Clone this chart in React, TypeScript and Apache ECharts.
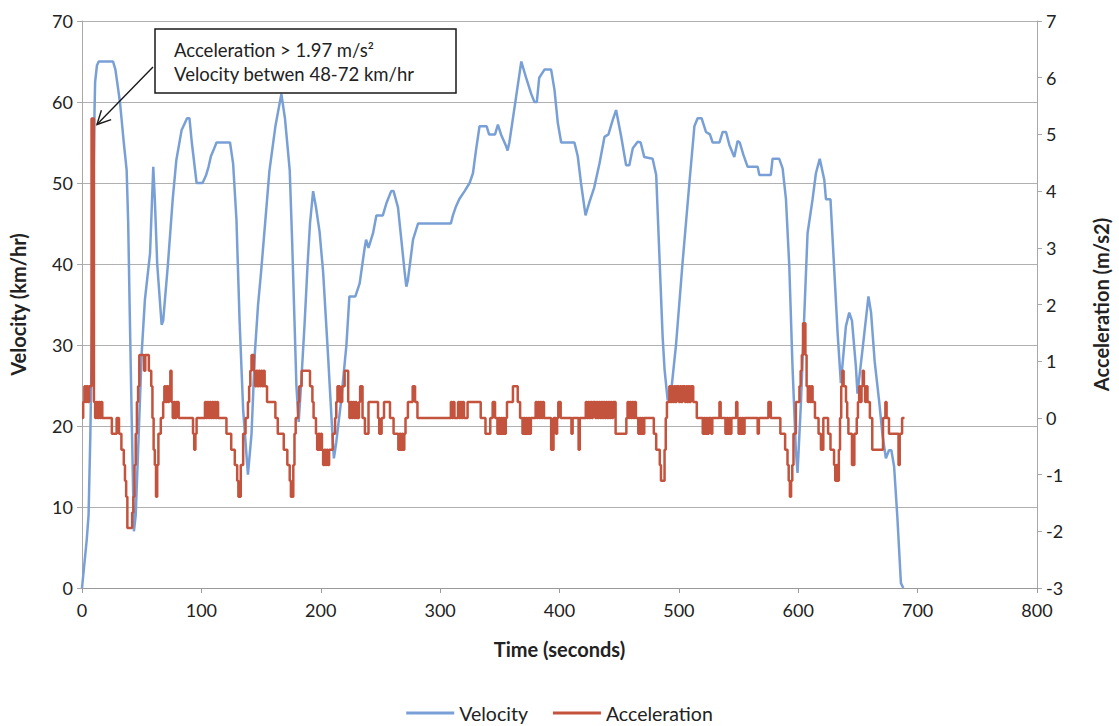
import React, { useEffect, useRef } from "react";
import * as echarts from "echarts";

// Vehicle speed trace, [time (s), velocity (km/hr)]
const velocity: [number, number][] = [
  [0, 0], [4, 6], [5.5, 9], [7, 19], [8.5, 33], [9.5, 48], [10.5, 59], [11, 62.5], [12.5, 64.5], [14, 65],
  [26, 65], [28, 64], [31.8, 60], [35, 55], [37.4, 51.6], [38.7, 45], [40, 34], [41.5, 22], [43.5, 7],
  [45, 9], [47, 17], [50, 29], [52.7, 35.6], [57, 41.3], [59.7, 52], [61, 48], [63, 40], [66.7, 32.5],
  [68, 33], [72, 40], [76, 48], [79, 52.8], [83.4, 56.5], [88, 58], [90, 58], [92, 55], [96, 50],
  [101, 50], [104, 51], [106, 52], [108, 53.3], [110, 54], [112.7, 55], [124, 55], [126.6, 52.4],
  [129.4, 45.4], [132, 33], [135, 22], [139, 14], [142, 19], [144.8, 29], [147.5, 35], [150, 39],
  [154.5, 47], [157, 51.5], [162, 57], [167, 61], [170, 58], [174, 51.6], [176, 43], [178, 33],
  [179.6, 25], [181.5, 20.5], [183.5, 25], [186.6, 33], [189, 40], [191, 45], [193.6, 49], [196, 47],
  [199, 44], [202, 39], [206, 29], [209, 21], [211, 16], [213, 18], [217, 23], [221.5, 30], [224, 36],
  [229, 36], [232.6, 37.6], [236.8, 42], [238, 43], [240, 42], [243.8, 43.8], [246.6, 46], [252, 46],
  [255, 47.5], [259, 49], [261, 49], [264.7, 47], [267.5, 43], [270.3, 39], [271.7, 37.2], [273, 38],
  [277.3, 43], [281.5, 45], [309, 45], [310.7, 46], [313, 47], [316, 48], [320.5, 49], [324.7, 50],
  [327.5, 51.2], [330, 54], [333, 57], [339, 57], [341, 56], [346, 56], [348.4, 57.2], [351, 56],
  [355.4, 54.5], [356.5, 54], [358, 55], [363.7, 60.7], [368, 65], [372, 63], [376.3, 61], [379, 60],
  [381, 60], [383, 63], [387.4, 64], [393, 64], [395.8, 61.5], [398.6, 57.4], [401.4, 55], [412.5, 55],
  [415.3, 53.3], [418, 50], [421.8, 46], [425, 47.6], [429, 49.4], [433.5, 52.4], [437.7, 55.7],
  [441, 56], [444.6, 57.8], [447.4, 59], [451.6, 55.8], [455.8, 52.2], [458.5, 52.2], [461.4, 54.3],
  [465.5, 55.1], [468, 55], [471, 53.2], [478, 53], [481, 51], [483.7, 41], [486.4, 31], [488, 27],
  [490.6, 23.2], [493, 23.5], [497.6, 30], [503, 40], [508.8, 50], [513, 57], [515.7, 58], [519, 58],
  [522.7, 56.3], [526, 56], [528.3, 55], [534, 55], [536.7, 56.3], [539.5, 56.3], [542.3, 54.7],
  [546.4, 53.2], [549.2, 55.2], [551, 55], [554, 53.5], [557.6, 52], [566, 52], [567.4, 51], [577, 51],
  [578.5, 53], [584, 53], [586.9, 51.8], [589.7, 48], [592.5, 39.7], [595.2, 27.3], [598, 17],
  [599.4, 14.2], [602.3, 23], [605, 33.5], [607.8, 43.8], [612, 48], [614.8, 51.2], [618, 53],
  [621.8, 50.4], [623.2, 48], [627, 48], [630, 39.7], [633, 31.4], [635.7, 25.3], [639.9, 32.3],
  [642.7, 34], [645, 33], [648.3, 27.3], [649.6, 24], [653.8, 29.4], [658.8, 36], [661, 34], [664, 28],
  [667.8, 23], [670.5, 19], [673.4, 16], [676, 17], [678, 17], [680.3, 15], [683, 8.8], [686, 0.6],
  [688, 0],
];

// Acceleration, [time (s), m/s2]; each value holds until the next time
const acceleration: [number, number][] = [
  [0, 0], [1, 0.28], [2, 0.56], [3, 0.28], [4, 0.56], [5, 0.28], [6, 0.56], [8, 5.28], [10, 0.28],
  [11, 0], [12, 0.28], [13, 0], [14, 0.28], [15, 0], [16, 0.28], [17, 0],
  [25, -0.28], [29, 0], [31, -0.28], [33, -0.56], [35, -0.83], [36, -1.11], [37, -1.39], [38, -1.94],
  [42, -1.67], [43, -1.39], [44, -0.83], [45, -0.28], [46, 0.28], [47, 0.56], [48, 1.11], [52, 0.83],
  [53, 1.11], [56, 0.83], [58, 0.56], [59, 0], [60, -0.56], [61, -0.83], [62, -1.39], [63, -0.83],
  [64, -0.28], [66, 0], [68, 0.28], [69, 0.56], [70, 0.28], [71, 0.56], [72, 0.28], [73, 0.56],
  [74, 0.83], [75, 0.28], [76, 0], [77, 0.28], [78, 0], [79, 0.28], [81, 0],
  [93, -0.28], [94, -0.56], [95, -0.28], [96, 0],
  [103, 0.28], [104, 0], [105, 0.28], [106, 0], [107, 0.28], [108, 0], [109, 0.28], [110, 0],
  [111, 0.28], [112, 0], [113, 0.28], [114, 0],
  [121, -0.28], [125, -0.56], [128, -0.83], [130, -1.11], [131, -1.39], [133, -0.83], [135, -0.28],
  [137, 0], [139, 0.28], [140, 0.56], [141, 0.83], [142, 1.11], [144, 0.83], [145, 0.56], [146, 0.83],
  [147, 0.56], [148, 0.83], [149, 0.56], [150, 0.83], [151, 0.56], [152, 0.83], [153, 0.56],
  [155, 0.28], [162, 0], [164, -0.28], [169, -0.56], [172, -0.83], [174, -1.11], [175, -1.39],
  [177, -0.83], [178, -0.28], [179, 0], [181, 0.28], [182, 0.56], [184, 0.83], [191, 0.56],
  [193, 0.28], [194, 0], [196, -0.28], [197, -0.56], [198, -0.28], [199, -0.56], [200, -0.28],
  [201, -0.56], [202, -0.83], [203, -0.56], [204, -0.83], [205, -0.56], [206, -0.83], [207, -0.56],
  [210, -0.28], [212, 0], [213, 0.28], [214, 0.56], [216, 0.28], [218, 0.56], [220, 0.83],
  [223, 0.28], [224, 0], [225, 0.28], [226, 0], [227, 0.28], [228, 0], [229, 0.28], [230, 0],
  [232, 0.28], [233, 0.56], [235, 0], [237, -0.28], [240, 0.28], [248, 0], [249, -0.28], [251, 0],
  [253, 0.28], [258, 0], [261, -0.28], [265, -0.56], [266, -0.28], [267, -0.56], [268, -0.28],
  [269, -0.56], [270, -0.28], [271, 0], [273, 0.28], [277, 0.56], [279, 0.28], [281, 0],
  [309, 0.28], [310, 0], [311, 0.28], [312, 0], [315, 0.28], [316, 0], [317, 0.28], [318, 0],
  [319, 0.28], [320, 0], [323, 0.28], [334, 0], [338, -0.28], [342, 0], [344, 0.28], [346, 0],
  [348, -0.28], [349, 0], [350, -0.28], [351, 0], [352, -0.28], [353, 0], [354, -0.28], [355, 0],
  [356, 0.28], [361, 0.56], [365, 0.28], [367, 0], [369, -0.28], [370, 0], [371, -0.28], [372, 0],
  [373, -0.28], [374, 0], [375, -0.28], [376, 0], [380, 0.28], [381, 0], [382, 0.28], [383, 0],
  [384, 0.28], [385, 0], [386, 0.28], [387, 0], [393, -0.56], [395, 0], [397, -0.28], [398, 0],
  [399, 0.28], [401, 0], [410, -0.28], [411, 0], [416, -0.56], [417, 0],
  [422, 0.28], [423, 0], [424, 0.28], [425, 0], [426, 0.28], [427, 0], [428, 0.28], [430, 0],
  [431, 0.28], [432, 0], [433, 0.28], [434, 0], [435, 0.28], [436, 0], [437, 0.28], [438, 0],
  [439, 0.28], [440, 0], [441, 0.28], [442, 0], [443, 0.28], [444, 0], [445, 0.28], [447, -0.28],
  [456, 0], [457, 0.28], [458, 0], [459, 0.28], [460, 0], [461, 0.28], [462, 0], [463, 0.28],
  [464, 0], [466, -0.28], [467, 0], [468, -0.28], [469, 0], [470, -0.28], [471, 0], [479, -0.28],
  [481, -0.56], [484, -0.83], [485, -1.11], [488, -0.56], [489, 0], [490, 0.28], [492, 0.56],
  [493, 0.28], [494, 0.56], [495, 0.28], [496, 0.56], [497, 0.28], [498, 0.56], [500, 0.28],
  [501, 0.56], [502, 0.28], [503, 0.56], [505, 0.28], [506, 0.56], [507, 0.28], [508, 0.56],
  [509, 0.28], [510, 0.56], [512, 0.28], [515, 0], [520, -0.28], [521, 0], [522, -0.28], [523, 0],
  [524, -0.28], [525, 0], [527, -0.28], [528, 0], [534, 0.28], [535, 0], [539, -0.28], [540, 0],
  [541, -0.28], [542, 0], [543, -0.28], [544, 0], [548, 0.28], [549, 0], [550, -0.28], [551, 0],
  [552, -0.28], [553, 0], [554, -0.28], [555, 0], [566, -0.28], [567, 0], [575, 0.28], [577, 0],
  [585, -0.28], [589, -0.56], [591, -0.83], [592, -1.11], [593, -1.39], [594, -1.11], [595, -0.83],
  [596, -0.28], [598, 0.28], [601, 0.56], [602, 0.83], [603, 1.11], [604, 1.67], [606, 1.11],
  [607, 0.56], [608, 0.28], [609, 0.56], [610, 0.28], [611, 0.56], [612, 0.28], [614, 0],
  [617, -0.28], [619, -0.56], [621, 0], [625, -0.28], [627, -0.56], [630, -0.83], [631, -1.11],
  [632, -0.83], [633, -1.11], [634, -0.56], [635, 0], [636, 0.56], [637, 0.83], [638, 0.56],
  [640, 0.28], [641, 0], [642, -0.28], [645, -0.83], [647, -0.28], [649, 0], [650, 0.28],
  [651, 0.56], [652, 0.28], [653, 0.56], [654, 0.83], [655, 0.56], [656, 0.28], [657, 0.56],
  [658, 0.28], [660, 0], [662, -0.56], [671, 0], [673, 0.28], [674, 0], [676, -0.28], [684, -0.83],
  [685, -0.28], [687, 0], [689, 0],
];

const noteLines = ["Acceleration > 1.97 m/s²", "Velocity betwen 48-72 km/hr"];
const notePoint: [number, number] = [10, 5.28];

const FONT = '"Lato", "Liberation Sans", sans-serif';
const INK = "#222222";
const GRID = "#b0b0b0";

export default function App() {
  const ref = useRef<HTMLDivElement>(null);

  useEffect(() => {
    const chart = echarts.init(ref.current!, null, { renderer: "svg" });
    const axisName = { fontFamily: FONT, fontSize: 20, fontWeight: "bold", color: INK };
    const axisLabel = { fontFamily: FONT, fontSize: 18, color: INK };
    chart.setOption({
      animation: false,
      backgroundColor: "#ffffff",
      grid: { left: 82, right: 81, top: 21, bottom: 138, containLabel: false },
      legend: {
        top: 698,
        left: "center",
        itemWidth: 48,
        itemHeight: 3,
        itemGap: 25,
        icon: "rect",
        textStyle: { fontFamily: FONT, fontSize: 19.5, color: INK },
        data: ["Velocity", "Acceleration"],
      },
      xAxis: {
        type: "value",
        min: 0,
        max: 800,
        interval: 100,
        name: "Time (seconds)",
        nameLocation: "middle",
        nameGap: 51,
        nameTextStyle: axisName,
        axisLine: { show: true, lineStyle: { color: "#9a9a9a", width: 1 } },
        axisTick: { show: true, length: 5, lineStyle: { color: "#9a9a9a" } },
        axisLabel: { ...axisLabel, margin: 13 },
        splitLine: { show: false },
      },
      yAxis: [
        {
          type: "value",
          min: 0,
          max: 70,
          interval: 10,
          name: "Velocity (km/hr)",
          nameLocation: "middle",
          nameRotate: 90,
          nameGap: 54,
          nameTextStyle: axisName,
          axisLine: { show: true, lineStyle: { color: "#a8a8a8", width: 1 } },
          axisTick: { show: true, length: 5, lineStyle: { color: "#a8a8a8" } },
          axisLabel: { ...axisLabel, margin: 9 },
          splitLine: { show: true, lineStyle: { color: GRID, width: 1 } },
        },
        {
          type: "value",
          min: -3,
          max: 7,
          interval: 1,
          position: "right",
          name: "Acceleration (m/s2)",
          nameLocation: "middle",
          nameRotate: 90,
          nameGap: 54,
          nameTextStyle: axisName,
          axisLine: { show: true, lineStyle: { color: "#a8a8a8", width: 1 } },
          axisTick: { show: true, length: 5, lineStyle: { color: "#a8a8a8" } },
          axisLabel: { ...axisLabel, margin: 9 },
          splitLine: { show: false },
        },
      ],
      series: [
        {
          name: "Velocity",
          type: "line",
          yAxisIndex: 0,
          data: velocity,
          showSymbol: false,
          lineStyle: { color: "#79a0d6", width: 2.5 },
          itemStyle: { color: "#79a0d6" },
        },
        {
          name: "Acceleration",
          type: "line",
          yAxisIndex: 1,
          data: acceleration,
          step: "end",
          showSymbol: false,
          lineStyle: { color: "#c4533e", width: 2.5 },
          itemStyle: { color: "#c4533e" },
        },
      ],
    });

    // Call-out box with an arrow pointing at the acceleration spike
    const box = { x: 155, y: 29, w: 301, h: 64 };
    const tipRaw = chart.convertToPixel({ seriesIndex: 1 }, notePoint) as number[];
    const tip = [tipRaw[0] + 3, tipRaw[1] + 6];
    const start = [box.x - 2, box.y + 38];
    const dx = tip[0] - start[0];
    const dy = tip[1] - start[1];
    const len = Math.hypot(dx, dy);
    const ux = dx / len;
    const uy = dy / len;
    const head = 15;
    const ang = (27 * Math.PI) / 180;
    const wing = (s: number) => [
      tip[0] - head * (ux * Math.cos(ang) - s * uy * Math.sin(ang)),
      tip[1] - head * (uy * Math.cos(ang) + s * ux * Math.sin(ang)),
    ];
    const w1 = wing(1);
    const w2 = wing(-1);
    const arrowStyle = { stroke: "#1a1a1a", lineWidth: 1.4 };
    const noteText = (text: string, dy: number) => ({
      type: "text",
      x: box.x + 19,
      y: box.y + dy,
      style: { text, fontFamily: FONT, fontSize: 18.5, fill: INK, verticalAlign: "middle" },
      z: 101,
    });

    chart.setOption({
      graphic: [
        {
          type: "rect",
          shape: { x: box.x, y: box.y, width: box.w, height: box.h },
          style: { fill: "#ffffff", stroke: "#1a1a1a", lineWidth: 1.5 },
          z: 100,
        },
        noteText(noteLines[0], 21),
        noteText(noteLines[1], 45),
        {
          type: "line",
          shape: { x1: start[0], y1: start[1], x2: tip[0], y2: tip[1] },
          style: arrowStyle,
          z: 101,
        },
        {
          type: "polyline",
          shape: { points: [w1, tip, w2] },
          style: { ...arrowStyle, fill: null },
          z: 101,
        },
      ],
    });

    return () => chart.dispose();
  }, []);

  return (
    <div
      ref={ref}
      style={{ position: "fixed", left: 0, top: 0, width: 1119, height: 726, background: "#fff" }}
    />
  );
}
